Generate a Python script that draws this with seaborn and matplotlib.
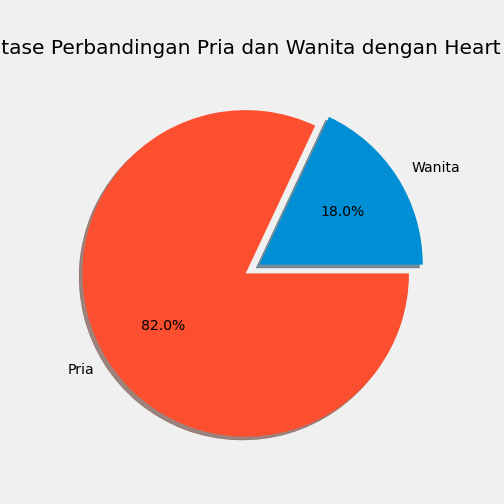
import matplotlib
matplotlib.use("Agg")
import matplotlib.pyplot as plt
import seaborn as sns

labels = ["Wanita", "Pria"]
values = [18.0, 82.0]
explode = [0.1, 0.0]

plt.style.use("fivethirtyeight")
colors = sns.color_palette(["#008fd5", "#fc4f30"])

fig, ax = plt.subplots(figsize=(7, 7), dpi=72)
ax.pie(values, labels=labels, explode=explode, autopct="%1.1f%%", shadow=True,
       colors=colors)
dx, dy = 0.085, 0.054
ax.set_xlim(-1.25 + dx, 1.25 + dx)
ax.set_ylim(-1.25 + dy, 1.25 + dy)
ax.set_title("Persentase Perbandingan Pria dan Wanita dengan Heart Disease")
fig.savefig("out.png", dpi=72)
